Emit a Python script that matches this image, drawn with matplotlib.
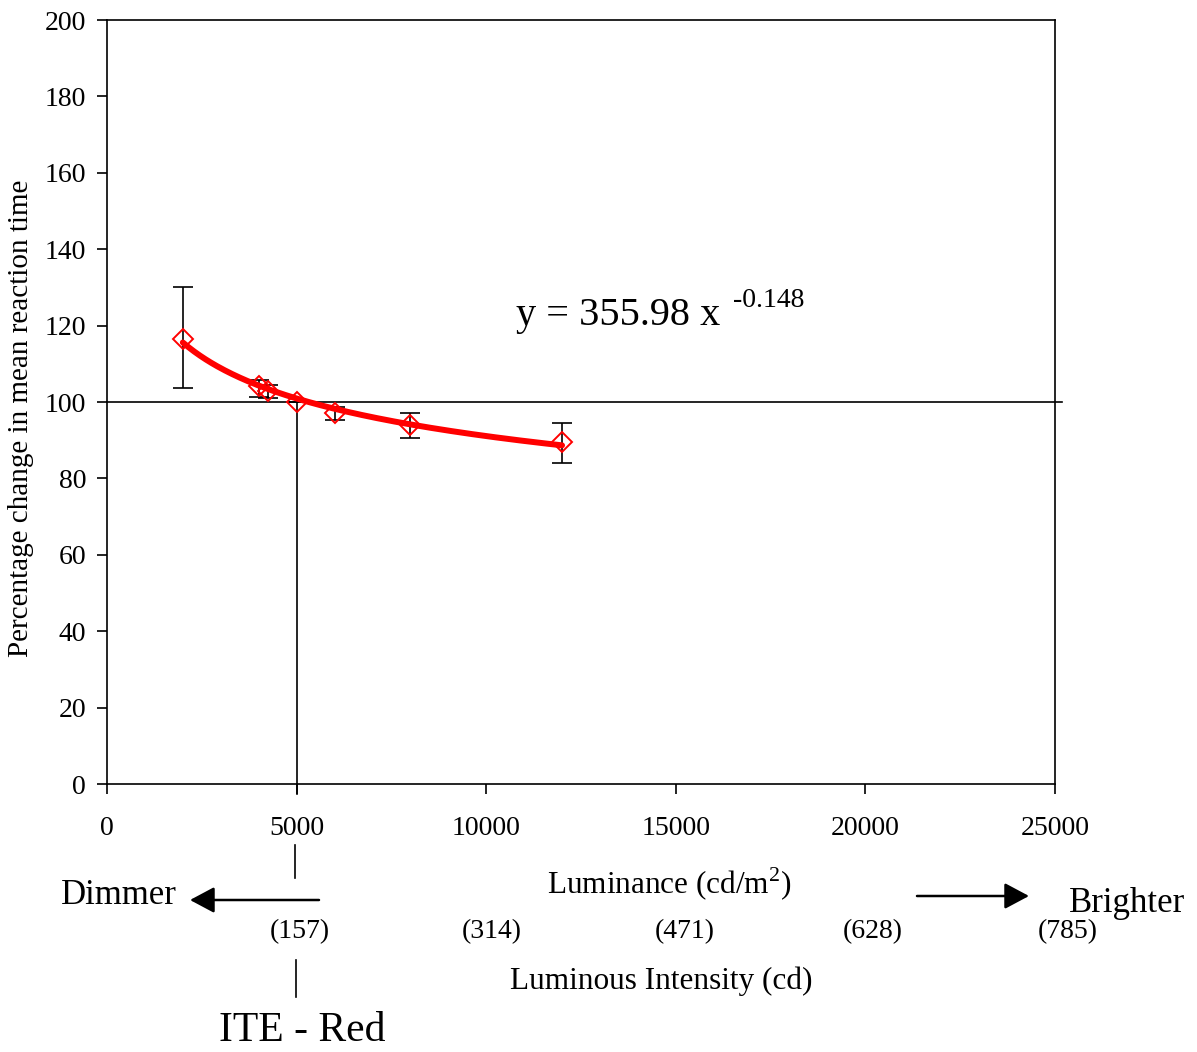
import numpy as np
import matplotlib
matplotlib.use("Agg")
import matplotlib.pyplot as plt
from matplotlib.lines import Line2D

plt.rcParams["font.family"] = ["Liberation Serif", "DejaVu Serif"]
plt.rcParams["mathtext.fontset"] = "custom"
plt.rcParams["mathtext.rm"] = "Liberation Serif"

# data
lum = [2000, 4000, 4250, 5000, 6000, 8000, 12000]
pct = [116.5, 104.2, 102.8, 100.0, 97.2, 94.0, 89.4]
err_lo = [12.8, 2.8, 1.8, 0.0, 1.9, 3.4, 5.3]
err_hi = [13.7, 1.5, 1.6, 0.0, 1.5, 3.2, 5.2]

# power-law trendline as printed on the chart
fit_a = 355.98
fit_b = -0.148
fit_x = np.linspace(2000, 12000, 200)

x_ticks = [0, 5000, 10000, 15000, 20000, 25000]
y_ticks = list(range(0, 201, 20))
intensity_labels = ["(157)", "(314)", "(471)", "(628)", "(785)"]

W, H = 1197, 1052
fig = plt.figure(figsize=(W / 100, H / 100), dpi=100)
ax = fig.add_axes([107 / W, 1 - 784 / H, (1055 - 107) / W, (784 - 20) / H])


def fx(px):
    return px / W


def fy(py):
    return 1 - py / H


ax.set_xlim(0, 25000)
ax.set_ylim(0, 200)
ax.set_xticks(x_ticks)
ax.set_yticks(y_ticks)
ax.tick_params(direction="out", length=7, width=1.2, labelsize=20, pad=8)
ax.tick_params(axis="x", pad=16)
for sp in ax.spines.values():
    sp.set_linewidth(1.2)

ax.plot(fit_x, fit_a * fit_x ** fit_b, color="red", lw=4.3, solid_capstyle="round", zorder=3)
ax.errorbar(lum, pct, yerr=[err_lo, err_hi], fmt="none", ecolor="black",
            elinewidth=1.2, capsize=7, capthick=1.2, zorder=2)
ax.plot(lum, pct, linestyle="none", marker="D", markersize=10, markerfacecolor="none",
        markeredgecolor="red", markeredgewidth=1.4, zorder=4)

# reference lines at 100 % and 5000 cd/m2
ax.plot([0, 25190], [100, 100], color="black", lw=1.2, clip_on=False, zorder=1)
ax.plot([5000, 5000], [100, -2.5], color="black", lw=1.2, clip_on=False, zorder=1)

ax.set_ylabel("Percentage change in mean reaction time", fontsize=21)
ax.yaxis.set_label_coords(-0.077, 0.478)

ax.text(10786, 120.2, "y = 355.98 x", fontsize=29, va="baseline", ha="left")
ax.text(16508, 124.9, "-0.148", fontsize=20, va="baseline", ha="left")

# annotations below the axis
fig.add_artist(Line2D([fx(295), fx(295)], [fy(845), fy(878)], color="black", lw=1.2))
fig.add_artist(Line2D([fx(296), fx(296)], [fy(960), fy(997)], color="black", lw=1.2))

fig.text(fx(669), fy(884), "Luminance (cd/m$^2$)", fontsize=22.5, ha="center", va="center")
fig.text(fx(119), fy(896), "Dimmer", fontsize=25, ha="center", va="center")
fig.text(fx(1127), fy(904), "Brighter", fontsize=25, ha="center", va="center")
arrow_style = dict(arrowstyle="-|>,head_length=0.75,head_width=0.4", color="black",
                   lw=1.8, mutation_scale=20, shrinkA=0, shrinkB=0)
ax.annotate("", xy=(fx(190), fy(900)), xytext=(fx(319), fy(900)),
            xycoords="figure fraction", textcoords="figure fraction", arrowprops=arrow_style)
ax.annotate("", xy=(fx(1029), fy(896)), xytext=(fx(917), fy(896)),
            xycoords="figure fraction", textcoords="figure fraction", arrowprops=arrow_style)

for lab, px in zip(intensity_labels, [300, 492, 685, 873, 1068]):
    fig.text(fx(px), fy(932), lab, fontsize=20, ha="center", va="center")

fig.text(fx(661), fy(981), "Luminous Intensity (cd)", fontsize=22.5, ha="center", va="center")
fig.text(fx(302), fy(1031), "ITE - Red", fontsize=30, ha="center", va="center")

fig.savefig("out.png", dpi=100)
